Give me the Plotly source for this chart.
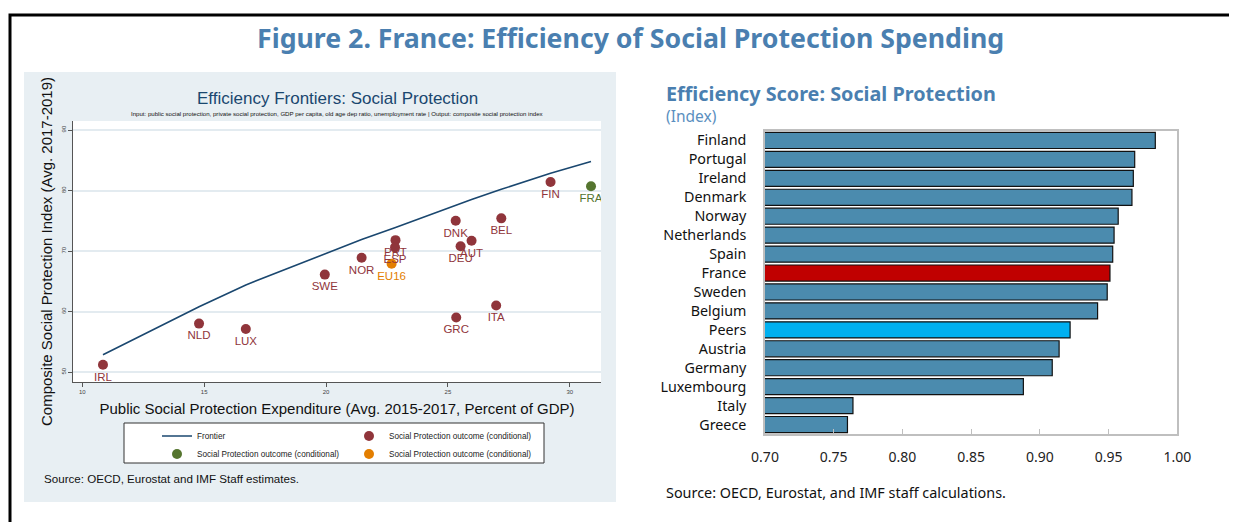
import plotly.graph_objects as go

W, H = 1237, 522

# ---------------- Left panel data: efficiency frontier ----------------
countries = ["IRL", "NLD", "LUX", "SWE", "NOR", "PRT", "ESP", "DNK", "DEU",
             "AUT", "BEL", "GRC", "ITA", "FIN"]
spend = [10.85, 14.79, 16.71, 19.95, 21.46, 22.85, 22.83, 25.32, 25.52,
         25.97, 27.19, 25.34, 26.98, 29.21]
outcome = [51.2, 58.0, 57.1, 66.1, 68.9, 71.8, 70.6, 75.0, 70.8,
           71.7, 75.4, 59.0, 61.0, 81.4]

fra_label = ["FRA"]
fra_spend = [30.87]
fra_outcome = [80.7]

eu_label = ["EU16"]
eu_spend = [22.69]
eu_outcome = [67.9]

frontier_x = [10.85, 14.79, 16.71, 19.95, 21.46, 22.85, 25.32, 25.97, 27.19, 29.21, 30.87]
frontier_y = [52.85, 60.8, 64.4, 69.6, 71.9, 73.9, 77.6, 78.5, 80.2, 82.85, 84.8]

x_ticks = [10, 15, 20, 25, 30]
y_ticks = [50, 60, 70, 80, 90]

# ---------------- Right panel data: efficiency scores ----------------
bar_countries = ["Finland", "Portugal", "Ireland", "Denmark", "Norway", "Netherlands",
                 "Spain", "France", "Sweden", "Belgium", "Peers", "Austria",
                 "Germany", "Luxembourg", "Italy", "Greece"]
bar_scores = [0.984, 0.969, 0.968, 0.967, 0.957, 0.954, 0.953, 0.951, 0.949,
              0.942, 0.922, 0.914, 0.909, 0.888, 0.764, 0.760]
bar_ticks = [0.70, 0.75, 0.80, 0.85, 0.90, 0.95, 1.00]

# ---------------- styles ----------------
NAVY = "#1a476f"
MAROON = "#90353b"
GREEN = "#55752f"
ORANGE = "#e37e00"
BAR_BLUE = "#4b8bae"
BAR_RED = "#c00000"
BAR_PEER = "#00b0f0"
PANEL_BG = "#e8eff3"
GRID = "#e3ebf0"
TITLE_BLUE = "#4a7fb0"

bar_colors = [BAR_RED if c == "France" else BAR_PEER if c == "Peers" else BAR_BLUE
              for c in bar_countries]

# page offset compensation (browser body margin)
OX, OY = 8, 8


def px(x):
    return (x - OX) / W


def py(y):
    return 1 - (y - OY) / H


fig = go.Figure()

fig.add_trace(go.Scatter(
    x=frontier_x, y=frontier_y, mode="lines", name="Frontier",
    line=dict(color=NAVY, width=1.6), xaxis="x", yaxis="y", legend="legend",
    hoverinfo="skip"))
fig.add_trace(go.Scatter(
    x=spend, y=outcome, mode="markers", name="Social Protection outcome (conditional)",
    marker=dict(color=MAROON, size=10), xaxis="x", yaxis="y", legend="legend"))
fig.add_trace(go.Scatter(
    x=fra_spend, y=fra_outcome, mode="markers", name="Social Protection outcome (conditional)",
    marker=dict(color=GREEN, size=10), xaxis="x", yaxis="y", legend="legend2"))
fig.add_trace(go.Scatter(
    x=eu_spend, y=eu_outcome, mode="markers", name="Social Protection outcome (conditional)",
    marker=dict(color=ORANGE, size=10), xaxis="x", yaxis="y", legend="legend2"))

# point labels (below markers)
lab_x = spend + fra_spend + eu_spend
lab_y = outcome + fra_outcome + eu_outcome
lab_t = countries + fra_label + eu_label
lab_c = [MAROON] * len(countries) + [GREEN] + [ORANGE]
fig.add_trace(go.Scatter(
    x=lab_x, y=lab_y, text=lab_t, mode="markers+text", textposition="bottom center",
    marker=dict(size=10, opacity=0), textfont=dict(color=lab_c, size=11.5, family="Liberation Sans"),
    showlegend=False, hoverinfo="skip", xaxis="x", yaxis="y"))

fig.add_trace(go.Bar(
    x=bar_scores, y=bar_countries, orientation="h",
    marker=dict(color=bar_colors, line=dict(color="#111111", width=1.2)),
    xaxis="x2", yaxis="y2", showlegend=False))

legend_common = dict(
    orientation="h", xanchor="left", yanchor="middle",
    entrywidth=147, entrywidthmode="pixels", itemwidth=30,
    font=dict(size=8.2, family="Liberation Sans", color="#222"),
    bgcolor="rgba(0,0,0,0)", borderwidth=0, tracegroupgap=0,
)

fig.update_layout(
    width=W, height=H, margin=dict(l=0, r=0, t=0, b=0, autoexpand=False),
    paper_bgcolor="white", plot_bgcolor="rgba(0,0,0,0)",
    showlegend=True,
    xaxis=dict(
        domain=[px(73), px(601)], range=[9.62, 31.28], anchor="y", automargin=False,
        tickvals=x_ticks, ticks="outside", ticklen=4, tickcolor="#555",
        tickfont=dict(size=6, color="#444", family="Liberation Sans"),
        showgrid=False, zeroline=False, showline=True, linecolor="#555", linewidth=1,
        title=dict(text="Public Social Protection Expenditure (Avg. 2015-2017, Percent of GDP)",
                   font=dict(size=15, family="Liberation Sans", color="#111"), standoff=9),
    ),
    yaxis=dict(
        domain=[py(382), py(121)], range=[48.35, 91.49], anchor="x", automargin=False,
        tickvals=y_ticks, tickangle=-90, ticks="outside", ticklen=4, tickcolor="#555",
        tickfont=dict(size=6, color="#444", family="Liberation Sans"),
        showgrid=True, gridcolor=GRID, gridwidth=1.5, zeroline=False,
        showline=True, linecolor="#555", linewidth=1,
        title=dict(text="Composite Social Protection Index (Avg. 2017-2019)",
                   font=dict(size=15, family="Liberation Sans", color="#111"), standoff=4),
    ),
    xaxis2=dict(
        domain=[px(765), px(1177.3)], range=[0.70, 1.00], anchor="y2", automargin=False,
        tickvals=bar_ticks, tickformat=".2f", ticks="inside", ticklen=5, tickcolor="#bfbfbf",
        showline=True, linecolor="#bfbfbf", linewidth=1.5, mirror=True,
        showgrid=False, zeroline=False, ticklabelstandoff=9,
        tickfont=dict(size=14, family="Noto Sans", color="#222"),
    ),
    yaxis2=dict(
        domain=[py(434), py(131)], anchor="x2", autorange="reversed", automargin=False,
        showline=True, linecolor="#bfbfbf", linewidth=1.5, mirror=True,
        ticks="", showgrid=False, ticklabelstandoff=14,
        tickfont=dict(size=14.3, family="Noto Sans", color="#111"),
    ),
    bargap=0.15,
    legend=dict(x=px(157), y=py(436), **legend_common),
    legend2=dict(x=px(157), y=py(454), **legend_common),
    shapes=[
        # left panel background
        dict(type="rect", xref="paper", yref="paper", x0=px(24), x1=px(616), y0=py(502), y1=py(72),
             fillcolor=PANEL_BG, line=dict(width=0), layer="below"),
        # legend box
        dict(type="rect", xref="paper", yref="paper", x0=px(124), x1=px(544), y0=py(463), y1=py(423),
             fillcolor="white", line=dict(color="#333", width=1), layer="below"),
        # white plot region of left chart
        dict(type="rect", xref="x domain", yref="y domain", x0=0, x1=1, y0=0, y1=1,
             fillcolor="white", line=dict(width=0), layer="below"),
        # outer frame
        dict(type="rect", xref="paper", yref="paper", x0=px(10), x1=1.05, y0=-0.05, y1=py(15),
             fillcolor="rgba(0,0,0,0)", line=dict(color="black", width=3), layer="above"),
    ],
    annotations=[
        dict(text="<b>Figure 2. France: Efficiency of Social Protection Spending</b>",
             x=px(630), y=py(37), xref="paper", yref="paper", showarrow=False,
             xanchor="center", yanchor="middle",
             font=dict(size=26.7, family="Noto Sans", color=TITLE_BLUE)),
        dict(text="Efficiency Frontiers: Social Protection",
             x=px(337), y=py(98), xref="paper", yref="paper", showarrow=False,
             xanchor="center", yanchor="middle",
             font=dict(size=17, family="Liberation Sans", color=NAVY)),
        dict(text="Input: public social protection, private social protection, GDP per capita, old age dep ratio, unemployment rate | Output: composite social protection index",
             x=px(337), y=py(114), xref="paper", yref="paper", showarrow=False,
             xanchor="center", yanchor="middle",
             font=dict(size=6.1, family="Liberation Sans", color="#111")),
        dict(text="Source: OECD, Eurostat and IMF Staff estimates.",
             x=px(42), y=py(478), xref="paper", yref="paper", showarrow=False,
             xanchor="left", yanchor="middle",
             font=dict(size=11.6, family="Liberation Sans", color="#111")),
        dict(text="<b>Efficiency Score: Social Protection</b>",
             x=px(664), y=py(93), xref="paper", yref="paper", showarrow=False,
             xanchor="left", yanchor="middle",
             font=dict(size=19.8, family="Noto Sans", color=TITLE_BLUE)),
        dict(text="(Index)",
             x=px(664), y=py(116), xref="paper", yref="paper", showarrow=False,
             xanchor="left", yanchor="middle",
             font=dict(size=15.5, family="Noto Sans", color="#5b8fc0")),
        dict(text="Source: OECD, Eurostat, and IMF staff calculations.",
             x=px(664), y=py(492), xref="paper", yref="paper", showarrow=False,
             xanchor="left", yanchor="middle",
             font=dict(size=14.4, family="Noto Sans", color="#111")),
    ],
)

fig.write_html("out.html")
